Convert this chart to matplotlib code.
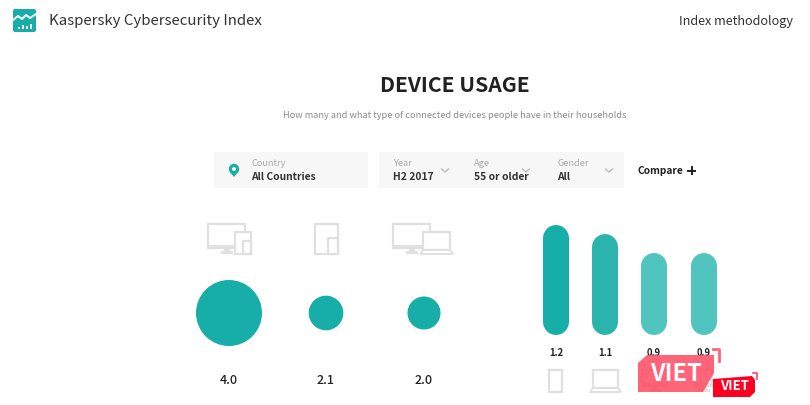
# Kaspersky device usage panel
import matplotlib
matplotlib.use('Agg')
from matplotlib import pyplot as plt
from matplotlib.patches import Circle, FancyBboxPatch, Polygon, Rectangle

plt.rcParams['font.family'] = ['Noto Sans CJK JP', 'DejaVu Sans']

# Data
combo_values = [4.0, 2.1, 2.0]
single_values = [1.2, 1.1, 0.9, 0.9]
single_colors = ['#17ada8', '#2bb4ae', '#50c4be', '#50c4be']
filter_labels = ['Year', 'Age', 'Gender']
filter_choices = ['H2 2017', '55 or older', 'All']

TEAL = '#17ada8'
ICON = '#e0e0e0'
DARK = '#222222'

fig = plt.figure(figsize=(8.1, 4.05), dpi=100)
ax = fig.add_axes([0, 0, 1, 1])
ax.set_xlim(0, 810)
ax.set_ylim(405, 0)
ax.axis('off')


def box(x0, y0, x1, y1, lw=1.6, fc='none', ec=ICON, z=3):
    ax.add_patch(Rectangle((x0, y0), x1 - x0, y1 - y0, fc=fc, ec=ec, lw=lw, zorder=z))


def monitor(x0, y0, x1, y1):
    box(x0, y0, x1, y1)
    box(x0, y1 - 3, x1, y1, lw=0, fc=ICON)
    mid = (x0 + x1) / 2
    box(mid - 3, y1, mid + 3, y1 + 3, lw=0, fc=ICON)
    box(mid - 6, y1 + 3, mid + 6, y1 + 6, lw=0, fc=ICON)


def tablet(x0, y0, x1, y1):
    box(x0, y0, x1, y1, fc='white', z=4)


def laptop(x0, y0, x1, y1):
    box(x0, y0, x1, y1 - 4, fc='white', z=4)
    ax.add_patch(Polygon([(x0, y1 - 4), (x1, y1 - 4), (x1 + 3, y1), (x0 - 3, y1)], closed=True,
                         fc='white', ec=ICON, lw=1.4, zorder=4))


# Header
ax.add_patch(FancyBboxPatch((13, 9), 23, 23, boxstyle='round,pad=0,rounding_size=2', fc=TEAL, ec='none'))
ax.plot([13, 18, 22, 26, 30, 36], [20, 16, 19, 15, 18, 14], color='white', lw=1.4)
for bx, bh in zip([18, 22, 26, 30], [2, 4, 3, 5]):
    box(bx, 29 - bh, bx + 2, 29, lw=0, fc='white')
ax.text(49, 20.5, 'Kaspersky Cybersecurity Index', fontsize=10.8, color='#333333', va='center')
ax.text(679, 21, 'Index methodology', fontsize=9.1, color='#333333', va='center')

ax.text(455, 86, 'DEVICE USAGE', fontsize=15.2, fontweight='bold', color=DARK, ha='center', va='center')
ax.text(455, 116, 'How many and what type of connected devices people have in their households',
        fontsize=6.65, color='#8a8a8a', ha='center', va='center')

# Filter bar
box(214, 152, 368, 188, lw=0, fc='#f7f7f7', z=1)
box(379, 152, 624, 188, lw=0, fc='#f7f7f7', z=1)
ax.add_patch(Circle((234, 169), 5.2, fc=TEAL, ec='none', zorder=3))
ax.add_patch(Polygon([(230, 172), (238, 172), (234, 177)], closed=True, fc=TEAL, ec='none', zorder=3))
ax.add_patch(Circle((234, 169), 2, fc='white', ec='none', zorder=4))
ax.text(251, 163.5, 'Country', fontsize=6.6, color='#aaaaaa', va='center')
ax.text(251, 176.5, 'All Countries', fontsize=7.4, fontweight='bold', color='#333333', va='center')

filter_x = [393, 474, 557]
chevron_x = [445, 526, 609]
for fx, cx, label, choice in zip(filter_x, chevron_x, filter_labels, filter_choices):
    ax.text(fx, 163.5, label, fontsize=6.6, color='#aaaaaa', va='center')
    ax.text(fx, 176.5, choice, fontsize=7.4, fontweight='bold', color='#333333', va='center')
    ax.plot([cx - 3.5, cx, cx + 3.5], [169, 172, 169], color='#bbbbbb', lw=1)

ax.text(637, 170.5, 'Compare', fontsize=7.4, fontweight='bold', color=DARK, va='center')
ax.plot([688, 695], [170.5, 170.5], color=DARK, lw=1.4)
ax.plot([691.5, 691.5], [167, 174], color=DARK, lw=1.4)

# Device combination icons
monitor(208, 224, 245, 248)
tablet(235, 232, 251, 254)
box(243, 241, 251, 254, z=5)
tablet(315, 224, 338, 254)
tablet(328, 238, 338, 254)
monitor(393, 224, 430, 248)
laptop(423, 232, 450, 254)

# Circles
combo_x = [229, 326, 424]
circle_y = 313
px_per_unit = 8.25
for cx, v in zip(combo_x, combo_values):
    ax.add_patch(Circle((cx, circle_y), v * px_per_unit, fc=TEAL, ec='none'))
    ax.text(cx, 380.5, '%.1f' % v, fontsize=9, fontweight='medium', color=DARK, ha='center', va='center')

# Rounded bars, thick lines with round caps
bar_x = [556, 605, 654, 704]
bar_lw = 26 * 72 / 100
bar_r = 13
bar_base = 335
bar_scale = 91.5
for bx, v, col in zip(bar_x, single_values, single_colors):
    h = v * bar_scale
    ax.plot([bx, bx], [bar_base - h + bar_r, bar_base - bar_r], color=col, lw=bar_lw, solid_capstyle='round')
    ax.text(bx, 353, '%.1f' % v, fontsize=6.8, fontweight='bold', color=DARK, ha='center', va='center')

# Single device icons
box(549, 370, 562, 392)
laptop(593, 370, 618, 392)
monitor(642, 370, 667, 386)
monitor(695, 370, 712, 386)

# Watermark
ax.add_patch(Polygon([(638, 363), (647, 355), (714, 355), (714, 373), (703, 392), (638, 392)],
                     closed=True, fc='#ff4a60', ec='none', alpha=0.85, zorder=6))
ax.plot([713, 719, 719], [349, 349, 361], color='#ff4a60', lw=2, alpha=0.85, zorder=6)
ax.text(676, 374, 'VIET', fontsize=17, fontweight='bold', color='white', ha='center', va='center', zorder=7)
ax.add_patch(Polygon([(713, 379), (752, 376), (755, 380), (755, 392), (750, 397), (713, 397)],
                     closed=True, fc='#ff0022', ec='none', zorder=8))
ax.plot([753, 757, 757], [373, 373, 379], color='#ff4a60', lw=1.2, zorder=8)
ax.text(734, 386, 'VIET', fontsize=9.5, fontweight='bold', color='white', ha='center', va='center', zorder=9)

fig.savefig('out.png', dpi=100)
